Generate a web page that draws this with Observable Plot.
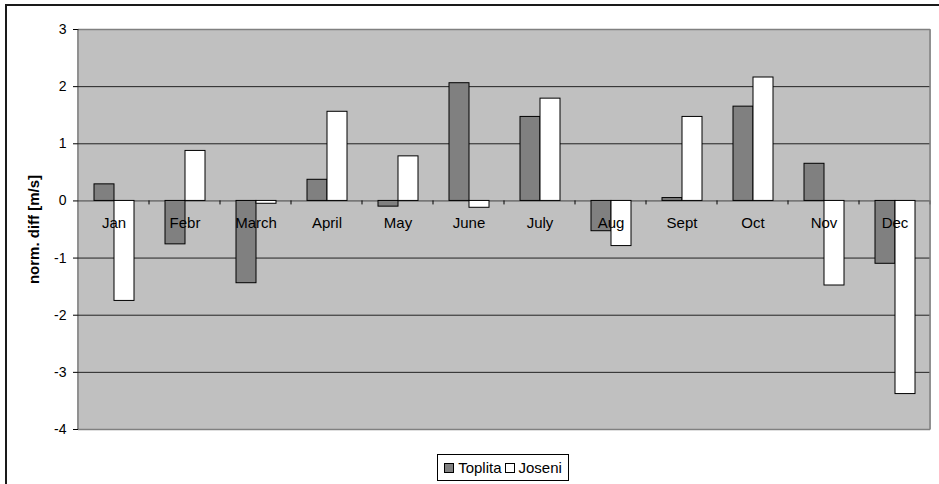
<!DOCTYPE html>
<html>
<head>
<meta charset="utf-8">
<script src="https://cdn.jsdelivr.net/npm/d3@7"></script>
<script src="https://cdn.jsdelivr.net/npm/@observablehq/plot@0.6"></script>
<style>
  html, body { margin: 0; padding: 0; background: #fff; }
  body { width: 939px; height: 484px; overflow: hidden; position: relative; font-family: "Liberation Sans", Arial, sans-serif; }
  #frame { position: absolute; left: 5px; top: 4px; width: 1000px; height: 600px; border-left: 2px solid #1a1a1a; border-top: 2px solid #1a1a1a; pointer-events: none; }
  #chart { position: absolute; left: 0; top: 0; }
  #legend { position: absolute; left: 437px; top: 454px; width: 130px; height: 25px; border: 1px solid #000; background: #fff;
            font-size: 15px; display: flex; align-items: center; justify-content: center; gap: 3px; color: #000; }
  .sw { display: inline-block; width: 8px; height: 8px; border: 1px solid #000; margin-right: 4px; vertical-align: middle; }
  .item { display: inline-flex; align-items: center; }
</style>
</head>
<body>
<div id="chart"></div>
<div id="frame"></div>
<div id="legend"></div>
<script>
const months = ["Jan", "Febr", "March", "April", "May", "June", "July", "Aug", "Sept", "Oct", "Nov", "Dec"];
const series = ["Toplita", "Joseni"];
const toplita = [0.29, -0.76, -1.44, 0.37, -0.10, 2.06, 1.47, -0.53, 0.05, 1.65, 0.65, -1.10];
const joseni = [-1.75, 0.875, -0.05, 1.56, 0.78, -0.12, 1.79, -0.79, 1.47, 2.16, -1.48, -3.38];
const yTicks = [-4, -3, -2, -1, 0, 1, 2, 3];
const colors = ["#808080", "#ffffff"];

const data = [];
months.forEach((m, i) => {
  data.push({month: m, series: series[0], value: toplita[i]});
  data.push({month: m, series: series[1], value: joseni[i]});
});

const plot = Plot.plot({
  width: 939,
  height: 484,
  marginLeft: 73,
  marginRight: 4,
  marginTop: 29,
  marginBottom: 55,
  style: {fontFamily: "'Liberation Sans', Arial, sans-serif", fontSize: "14px", color: "#000", background: "transparent"},
  fx: {domain: months, padding: 0, axis: null},
  x: {domain: series, paddingInner: 0, paddingOuter: 0.71, axis: null},
  y: {domain: [-4, 3], axis: null},
  color: {domain: series, range: colors},
  marks: [
    Plot.frame({fill: "#c0c0c0", stroke: null, shapeRendering: "crispEdges"}),
    Plot.ruleY(yTicks.filter(d => d !== 0 && d !== 3 && d !== -4), {stroke: "#222", strokeWidth: 1}),
    Plot.ruleY([3, -4], {stroke: "#808080", strokeWidth: 1.5}),
    Plot.ruleY([0], {stroke: "#444", strokeWidth: 1}),
    Plot.barY(data, {fx: "month", x: "series", y: "value", fill: "series", stroke: "#000", strokeWidth: 1}),
    Plot.text(months, {fx: d => d, y: 0, text: d => d, dy: 22, fontSize: 15, fill: "#000"}),
    Plot.axisY({ticks: yTicks, tickFormat: d => String(d), tickSize: 5, tickPadding: 7, fontSize: 14, stroke: "#000", anchor: "left",
                label: "norm. diff [m/s]", labelAnchor: "center", labelArrow: false, labelOffset: 50})
  ]
});
document.getElementById("chart").appendChild(plot);

// Month boundary ticks, left axis line and right border, placed via the plot's own scales
const svg = d3.select(plot.tagName.toLowerCase() === "svg" ? plot : plot.querySelector("svg"));
const fx = plot.scale("fx");
const ys = plot.scale("y");
const y0 = ys.apply(0), yTop = ys.apply(3), yBot = ys.apply(-4);
const left = fx.apply(months[0]);
const right = fx.apply(months[months.length - 1]) + fx.bandwidth;
const g = svg.append("g");
months.slice(1).concat(["__end"]).forEach((m) => {
  const xb = m === "__end" ? right : fx.apply(m);
  g.append("line").attr("x1", xb).attr("x2", xb).attr("y1", y0).attr("y2", y0 + 4).attr("stroke", "#000").attr("stroke-width", 1);
});
g.append("line").attr("x1", left).attr("x2", left).attr("y1", yTop).attr("y2", yBot).attr("stroke", "#222").attr("stroke-width", 1);
g.append("line").attr("x1", right).attr("x2", right).attr("y1", yTop).attr("y2", yBot).attr("stroke", "#808080").attr("stroke-width", 1.5);

// axis label: bold, larger
svg.selectAll("[aria-label='y-axis label']").attr("font-weight", "bold").attr("font-size", 15);
svg.selectAll("[aria-label='y-axis label'] text").attr("font-weight", "bold").attr("font-size", 15);

// Legend
const legend = document.getElementById("legend");
series.forEach((s, i) => {
  const it = document.createElement("span");
  it.className = "item";
  it.innerHTML = `<span class="sw" style="background:${colors[i]}"></span>${s}`;
  legend.appendChild(it);
});
</script>
</body>
</html>
